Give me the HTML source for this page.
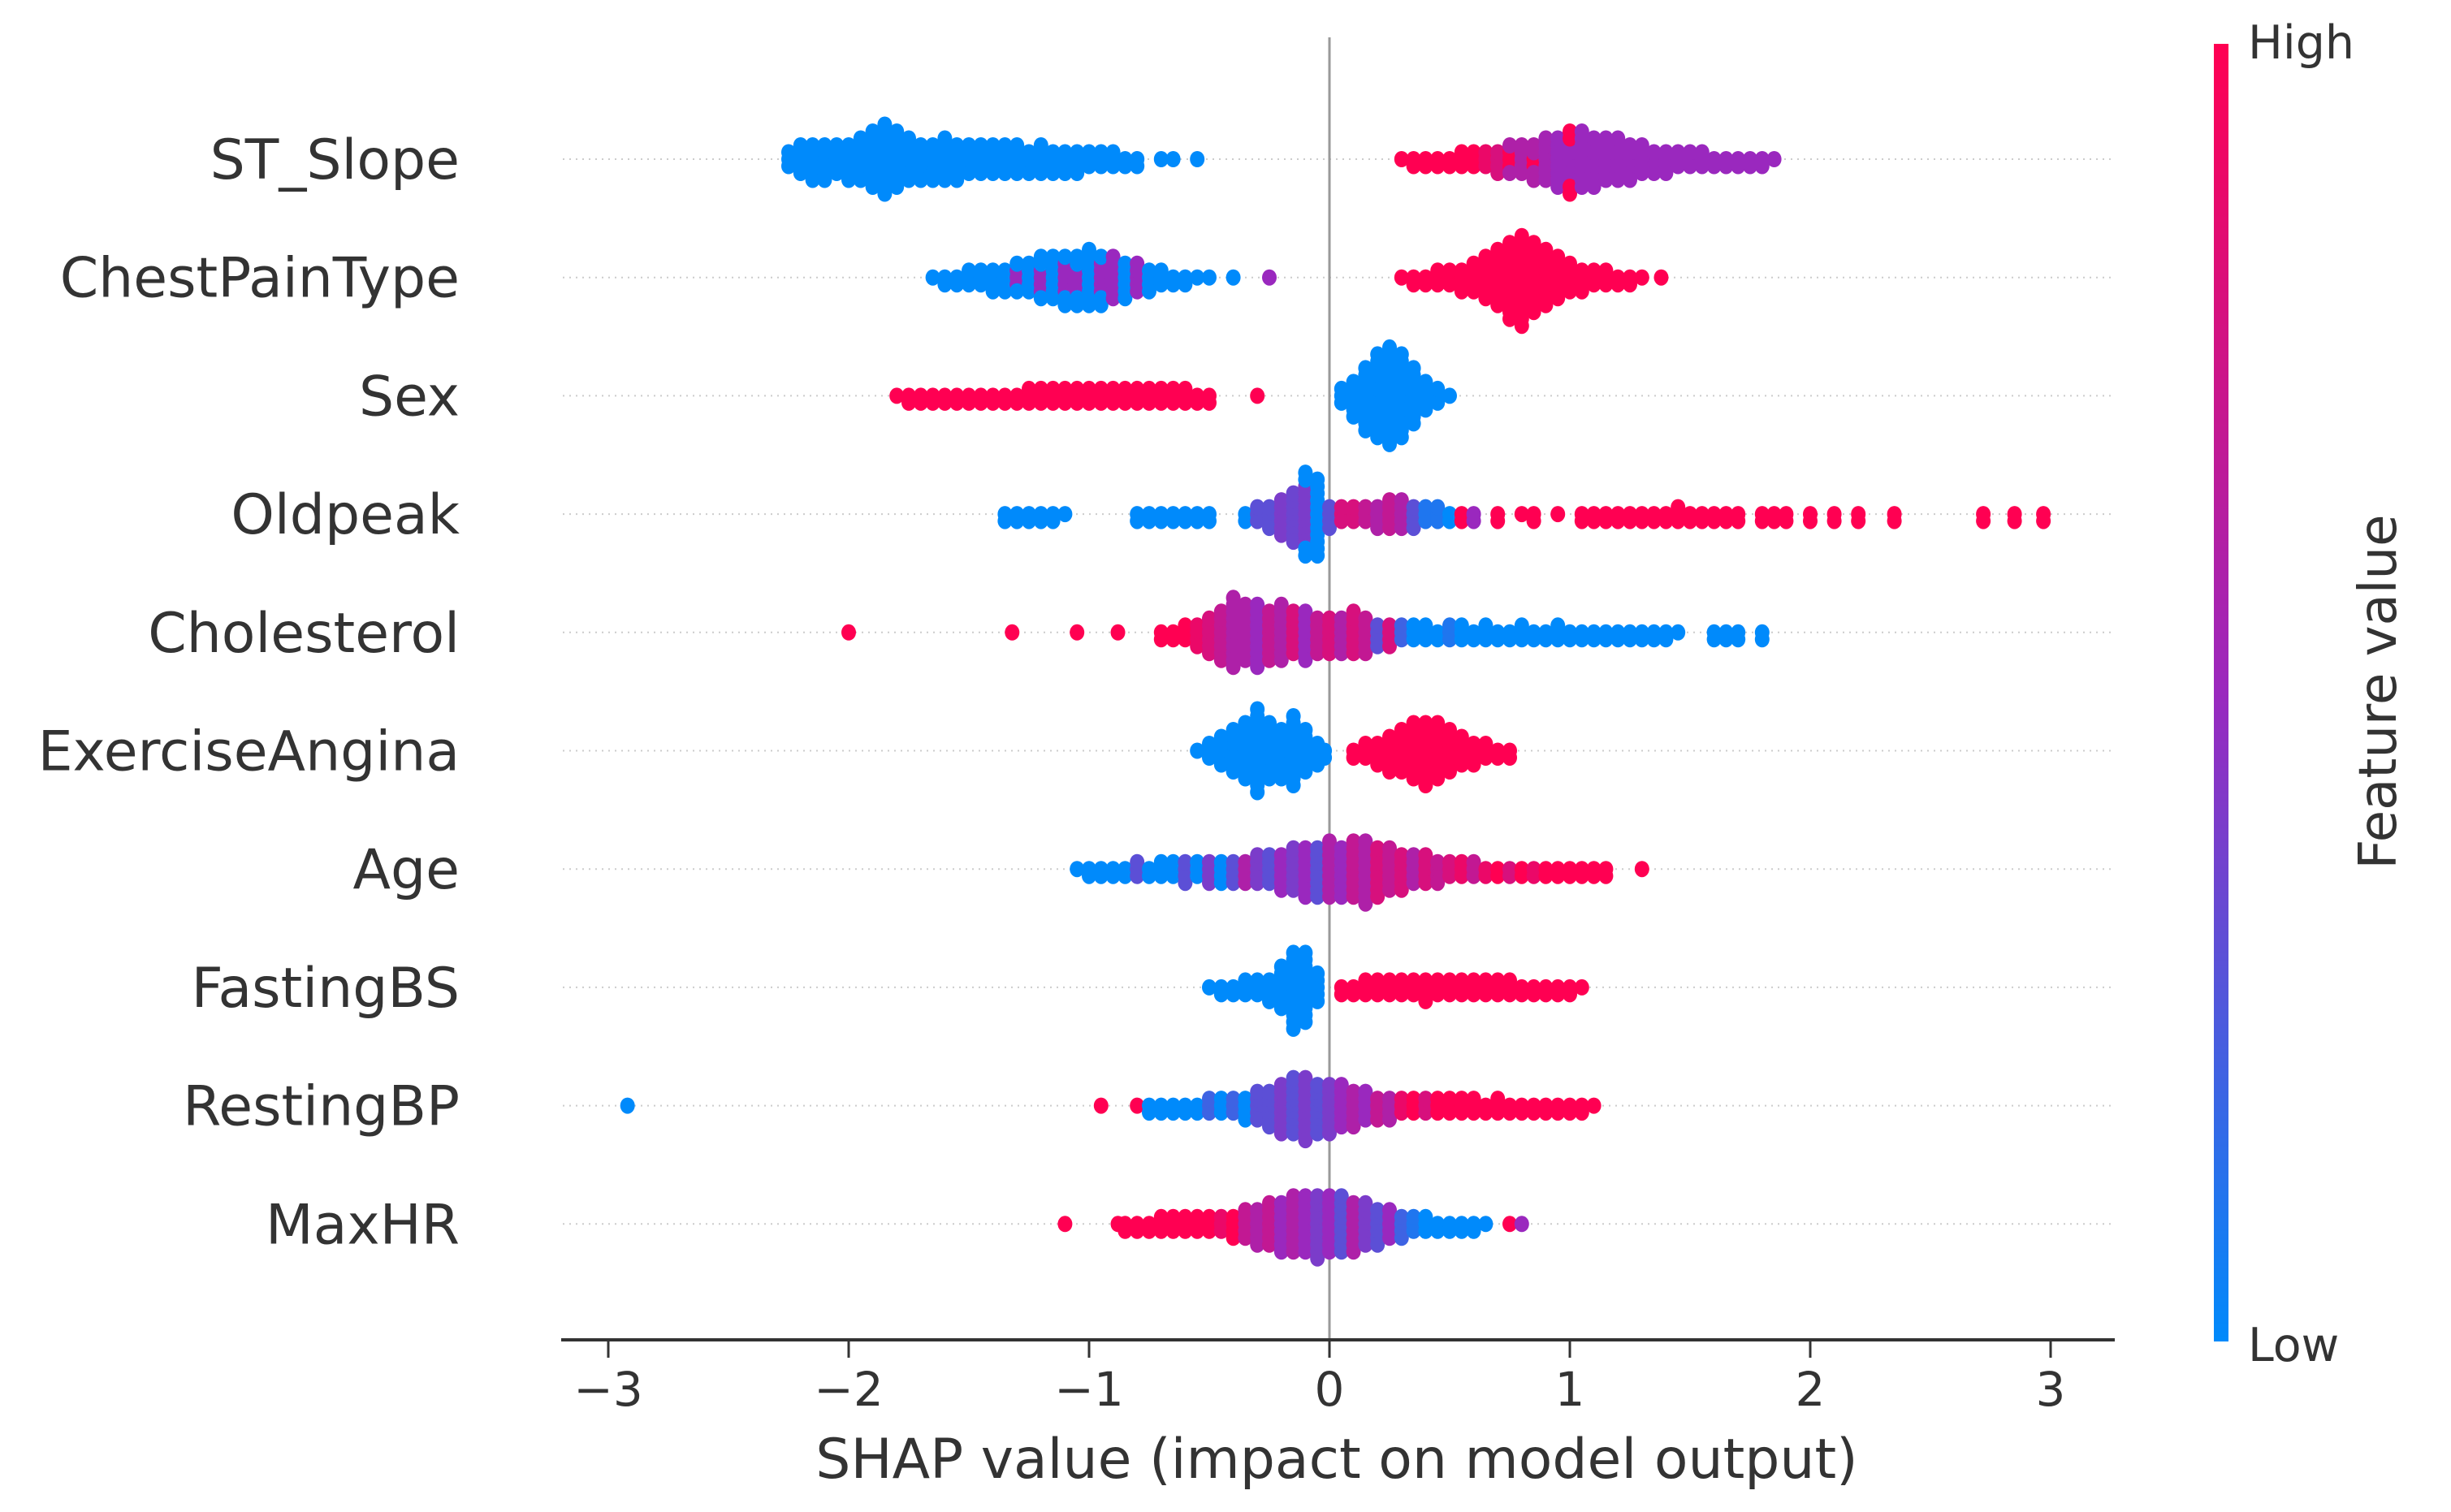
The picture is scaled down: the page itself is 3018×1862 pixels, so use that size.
<!DOCTYPE html>
<html><head><meta charset="utf-8"><style>
body{margin:0;background:#fff;}
svg{display:block;font-family:"DejaVu Sans","Liberation Sans",sans-serif;}
</style></head><body>
<svg id="chart" width="3018" height="1862" viewBox="0 0 3018 1862" xmlns="http://www.w3.org/2000/svg">
<defs><linearGradient id="cbar" x1="0" y1="1" x2="0" y2="0">
<stop offset="0" stop-color="#008afb"/><stop offset="0.5" stop-color="#9a28be"/><stop offset="1" stop-color="#ff0052"/></linearGradient></defs>
<g id="grid"></g>
<line x1="1637" y1="46" x2="1637" y2="1650" stroke="#999" stroke-width="3"/>
<g id="dots"></g>
<g id="labels"></g>
<line x1="691" y1="1650" x2="2604" y2="1650" stroke="#333" stroke-width="4"/>
<g id="xticks"></g>
<text x="1646" y="1820" font-size="68" fill="#333" text-anchor="middle">SHAP value (impact on model output)</text>
<rect x="2726" y="54" width="18" height="1598" fill="url(#cbar)"/>
<text x="2768" y="72" font-size="57" fill="#333">High</text>
<text x="2768" y="1676" font-size="57" fill="#333">Low</text>
<text x="0" y="0" font-size="64" fill="#333" text-anchor="middle" transform="translate(2950,852) rotate(-90)">Feature value</text>
</svg>
<script>
const features=["ST_Slope","ChestPainType","Sex","Oldpeak","Cholesterol","ExerciseAngina","Age","FastingBS","RestingBP","MaxHR"];
const xTicks=[-3,-2,-1,0,1,2,3];
// each entry: [shap value, feature value 0..1, count]
const stSlope=[[-2.25,0,3],[-2.2,0,5],[-2.15,0,6],[-2.1,0,6],[-2.05,0,5],[-2.0,0,6],[-1.95,0,7],[-1.9,0,9],[-1.85,0,11],[-1.8,0,9],[-1.75,0,7],[-1.7,0,6],[-1.65,0,6],[-1.6,0,7],[-1.55,0,6],[-1.5,0,5],[-1.45,0,5],[-1.4,0,5],[-1.35,0,5],[-1.3,0,5],[-1.25,0,4],[-1.2,0,5],[-1.15,0,4],[-1.1,0,4],[-1.05,0,4],[-1.0,0,3],[-0.95,0,3],[-0.9,0,3],[-0.85,0,2],[-0.8,0,2],[-0.7,0,1],[-0.65,0,1],[-0.55,0,1],
[0.3,1,1],[0.35,1,2],[0.4,1,2],[0.45,1,2],[0.5,1,2],[0.55,1,3],[0.6,1,3],[0.65,0.9,3],[0.7,0.8,4],[0.75,1,3],[0.75,0.6,2],[0.8,0.6,5],[0.85,1,2],[0.85,0.6,4],[0.9,0.55,7],[0.95,0.5,8],[1.0,0.5,6],[1.0,1,4],[1.05,0.5,9],[1.1,0.5,8],[1.15,0.5,7],[1.2,0.5,7],[1.25,0.5,6],[1.3,0.5,5],[1.35,0.5,4],[1.4,0.5,4],[1.45,0.5,3],[1.5,0.5,3],[1.55,0.5,3],[1.6,0.5,2],[1.65,0.5,2],[1.7,0.5,2],[1.75,0.5,2],[1.8,0.5,2],[1.85,0.5,1]];
const chestPain=[[-1.65,0,1],[-1.6,0,2],[-1.55,0,2],[-1.5,0,3],[-1.45,0,3],[-1.4,0,4],[-1.35,0,4],[-1.3,0.5,3],[-1.3,0,2],[-1.25,0,5],[-1.2,0.5,4],[-1.2,0,3],[-1.15,0,7],[-1.1,0.5,5],[-1.1,0,3],[-1.05,0.5,4],[-1.05,0,4],[-1.0,0,9],[-0.95,0.5,5],[-0.95,0,3],[-0.9,0.5,7],[-0.85,0,6],[-0.8,0.5,5],[-0.75,0,4],[-0.7,0,3],[-0.65,0,2],[-0.6,0,2],[-0.55,0,1],[-0.5,0,1],[-0.4,0,1],[-0.25,0.5,1],
[0.3,1,1],[0.35,1,2],[0.4,1,2],[0.45,1,3],[0.5,1,3],[0.55,1,4],[0.6,1,5],[0.65,1,7],[0.7,1,9],[0.75,1,12],[0.8,1,14],[0.85,1,11],[0.9,1,9],[0.95,1,7],[1.0,1,5],[1.05,1,4],[1.1,1,3],[1.15,1,3],[1.2,1,2],[1.25,1,2],[1.3,1,1],[1.38,1,1]];
const sex=[[-1.8,1,1],[-1.75,1,2],[-1.7,1,2],[-1.65,1,2],[-1.6,1,2],[-1.55,1,2],[-1.5,1,2],[-1.45,1,2],[-1.4,1,2],[-1.35,1,2],[-1.3,1,2],[-1.25,1,3],[-1.2,1,3],[-1.15,1,3],[-1.1,1,3],[-1.05,1,3],[-1.0,1,3],[-0.95,1,3],[-0.9,1,3],[-0.85,1,3],[-0.8,1,3],[-0.75,1,3],[-0.7,1,3],[-0.65,1,3],[-0.6,1,3],[-0.55,1,2],[-0.5,1,2],[-0.3,1,1],
[0.05,0,3],[0.1,0,6],[0.15,0,10],[0.2,0,13],[0.25,0,15],[0.3,0,13],[0.35,0,9],[0.4,0,5],[0.45,0,3],[0.5,0,1]];
const oldpeak=[[-1.35,0,2],[-1.3,0,2],[-1.25,0,2],[-1.2,0,2],[-1.15,0,2],[-1.1,0,1],[-0.8,0,2],[-0.75,0,2],[-0.7,0,2],[-0.65,0,2],[-0.6,0,2],[-0.55,0,2],[-0.5,0,2],[-0.35,0,2],[-0.3,0.3,3],[-0.25,0.3,4],[-0.2,0.4,6],[-0.15,0.35,8],[-0.1,0.4,9],[-0.1,0,4],[-0.05,0,12],[0.0,0.3,4],[0.05,0.8,3],[0.1,0.8,3],[0.15,0.7,3],[0.2,0.6,4],[0.25,0.7,5],[0.3,0.6,5],[0.35,0.3,4],[0.4,0.1,3],[0.45,0.1,3],[0.5,0,2],[0.55,1,2],[0.6,0.5,2],[0.7,1,2],[0.8,1,1],[0.85,1,2],[0.95,1,1],[1.05,1,2],[1.1,1,2],[1.15,1,2],[1.2,1,2],[1.25,1,2],[1.3,1,2],[1.35,1,2],[1.4,1,2],[1.45,1,3],[1.5,1,2],[1.55,1,2],[1.6,1,2],[1.65,1,2],[1.7,1,2],[1.8,1,2],[1.85,1,2],[1.9,1,2],[2.0,1,2],[2.1,1,2],[2.2,1,2],[2.35,1,2],[2.72,1,2],[2.85,1,2],[2.97,1,2]];
const cholesterol=[[-2.0,1,1],[-1.32,1,1],[-1.05,1,1],[-0.88,1,1],[-0.7,1,2],[-0.65,1,2],[-0.6,1,3],[-0.55,0.9,4],[-0.5,0.8,6],[-0.45,0.7,8],[-0.4,0.6,11],[-0.35,0.6,9],[-0.3,0.5,10],[-0.25,0.7,8],[-0.2,0.6,9],[-0.15,0.8,7],[-0.1,0.5,8],[-0.05,0.7,6],[0.0,0.8,6],[0.05,0.6,6],[0.1,0.8,7],[0.15,0.7,6],[0.2,0.3,4],[0.25,0.8,4],[0.3,0.2,3],[0.35,0,3],[0.4,0,3],[0.45,0,2],[0.5,0.1,3],[0.55,0,3],[0.6,0,2],[0.65,0,3],[0.7,0,2],[0.75,0,2],[0.8,0,3],[0.85,0,2],[0.9,0,2],[0.95,0,3],[1.0,0,2],[1.05,0,2],[1.1,0,2],[1.15,0,2],[1.2,0,2],[1.25,0,2],[1.3,0,2],[1.35,0,2],[1.4,0,2],[1.45,0,1],[1.6,0,2],[1.65,0,2],[1.7,0,2],[1.8,0,2]];
const exAngina=[[-0.55,0,1],[-0.5,0,3],[-0.45,0,5],[-0.4,0,7],[-0.35,0,9],[-0.3,0,13],[-0.25,0,9],[-0.2,0,8],[-0.15,0,11],[-0.1,0,7],[-0.05,0,4],[-0.02,0,2],
[0.1,1,2],[0.15,1,3],[0.2,1,4],[0.25,1,6],[0.3,1,7],[0.35,1,9],[0.4,1,10],[0.45,1,9],[0.5,1,7],[0.55,1,5],[0.6,1,4],[0.65,1,3],[0.7,1,2],[0.75,1,2]];
const age=[[-1.05,0,1],[-1.0,0,2],[-0.95,0,2],[-0.9,0,2],[-0.85,0,2],[-0.8,0.3,3],[-0.75,0,2],[-0.7,0,3],[-0.65,0,3],[-0.6,0.3,4],[-0.55,0,3],[-0.5,0.4,4],[-0.45,0,4],[-0.4,0.3,4],[-0.35,0.6,4],[-0.3,0.4,5],[-0.25,0.3,5],[-0.2,0.5,6],[-0.15,0.4,7],[-0.1,0.5,8],[-0.05,0.3,8],[0.0,0.6,9],[0.05,0.5,8],[0.1,0.7,9],[0.15,0.6,10],[0.2,0.8,8],[0.25,0.7,7],[0.3,0.8,6],[0.35,0.6,5],[0.4,0.8,5],[0.45,0.7,4],[0.5,0.8,3],[0.55,0.9,3],[0.6,0.7,3],[0.65,0.9,2],[0.7,1,2],[0.75,0.8,2],[0.8,1,2],[0.85,0.9,2],[0.9,1,2],[0.95,1,2],[1.0,1,2],[1.05,1,2],[1.1,1,2],[1.15,1,2],[1.3,1,1]];
const fastingBS=[[-0.5,0,1],[-0.45,0,2],[-0.4,0,2],[-0.35,0,3],[-0.3,0,3],[-0.25,0,4],[-0.2,0,7],[-0.15,0,12],[-0.1,0,11],[-0.05,0,5],[0.05,1,2],[0.1,1,2],[0.15,1,3],[0.2,1,3],[0.25,1,3],[0.3,1,3],[0.35,1,3],[0.4,1,4],[0.45,1,3],[0.5,1,3],[0.55,1,3],[0.6,1,3],[0.65,1,3],[0.7,1,3],[0.75,1,3],[0.8,1,2],[0.85,1,2],[0.9,1,2],[0.95,1,2],[1.0,1,2],[1.05,1,1]];
const restingBP=[[-2.92,0,1],[-0.95,1,1],[-0.8,1,1],[-0.75,0,2],[-0.7,0,2],[-0.65,0,2],[-0.6,0,2],[-0.55,0,2],[-0.5,0.2,3],[-0.45,0,3],[-0.4,0.2,3],[-0.35,0,4],[-0.3,0.3,5],[-0.25,0.3,6],[-0.2,0.4,8],[-0.15,0.3,9],[-0.1,0.4,10],[-0.05,0.3,8],[0.0,0.4,8],[0.05,0.5,7],[0.1,0.6,6],[0.15,0.5,5],[0.2,0.7,4],[0.25,0.6,4],[0.3,0.9,3],[0.35,1,3],[0.4,0.8,3],[0.45,1,3],[0.5,1,3],[0.55,1,3],[0.6,1,3],[0.65,1,2],[0.7,1,3],[0.75,1,2],[0.8,1,2],[0.85,1,2],[0.9,1,2],[0.95,1,2],[1.0,1,2],[1.05,1,2],[1.1,1,1]];
const maxHR=[[-1.1,1,1],[-0.88,1,1],[-0.85,1,2],[-0.8,1,2],[-0.75,1,2],[-0.7,1,3],[-0.65,1,3],[-0.6,1,3],[-0.55,1,3],[-0.5,1,3],[-0.45,0.9,3],[-0.4,1,4],[-0.35,0.7,5],[-0.3,0.6,6],[-0.25,0.7,7],[-0.2,0.5,8],[-0.15,0.6,9],[-0.1,0.5,9],[-0.05,0.4,10],[0.0,0.5,9],[0.05,0.3,9],[0.1,0.6,8],[0.15,0.4,7],[0.2,0.3,6],[0.25,0.5,5],[0.3,0.2,4],[0.35,0.1,3],[0.4,0,3],[0.45,0,2],[0.5,0,2],[0.55,0,2],[0.6,0,2],[0.65,0,1],[0.75,1,1],[0.8,0.5,1]];
const rows=[stSlope,chestPain,sex,oldpeak,cholesterol,exAngina,age,fastingBS,restingBP,maxHR];

const NS="http://www.w3.org/2000/svg";
const x0=1637,xUnit=296,yTop=196,yStep=145.7,stackStep=8.5;
const xs=v=>x0+v*xUnit;
const ys=i=>yTop+i*yStep;
function colour(t){
  const a=[0,138,251],m=[154,40,190],b=[255,0,82];
  let c;
  if(t<0.5){const f=t/0.5;c=a.map((v,k)=>v+(m[k]-v)*f);}else{const f=(t-0.5)/0.5;c=m.map((v,k)=>v+(b[k]-v)*f);}
  return "rgb("+c.map(Math.round).join(",")+")";
}
const grid=document.getElementById("grid"),dots=document.getElementById("dots"),labels=document.getElementById("labels"),xt=document.getElementById("xticks");
features.forEach((f,i)=>{
  const y=ys(i);
  const gl=document.createElementNS(NS,"line");
  gl.setAttribute("x1",693);gl.setAttribute("x2",2600);gl.setAttribute("y1",y);gl.setAttribute("y2",y);
  gl.setAttribute("stroke","#ccc");gl.setAttribute("stroke-width","2");gl.setAttribute("stroke-dasharray","2 6");
  
  
  grid.appendChild(gl);
  const t=document.createElementNS(NS,"text");
  t.setAttribute("x",566);t.setAttribute("y",y+24);t.setAttribute("font-size","68");t.setAttribute("fill","#333");t.setAttribute("text-anchor","end");
  t.textContent=f;
  
  
  labels.appendChild(t);
  const counts={};
  rows[i].forEach(([v,fv,n])=>{
    const key=v.toFixed(2);
    for(let k=0;k<n;k++){
      const c=counts[key]||0;counts[key]=c+1;
      const off=c===0?0:(c%2?1:-1)*Math.ceil(c/2)*stackStep;
      const e=document.createElementNS(NS,"ellipse");
      e.setAttribute("cx",xs(v));e.setAttribute("cy",y+off);e.setAttribute("rx",9);e.setAttribute("ry",10);
      e.setAttribute("fill",colour(fv));
      
      
      dots.appendChild(e);
    }
  });
});
xTicks.forEach(v=>{
  const l=document.createElementNS(NS,"line");
  l.setAttribute("x1",xs(v));l.setAttribute("x2",xs(v));l.setAttribute("y1",1650);l.setAttribute("y2",1672);
  l.setAttribute("stroke","#333");l.setAttribute("stroke-width","3");
  
  
  xt.appendChild(l);
  const t=document.createElementNS(NS,"text");
  t.setAttribute("x",xs(v));t.setAttribute("y",1731);t.setAttribute("font-size","58");t.setAttribute("fill","#333");t.setAttribute("text-anchor","middle");
  t.textContent=v<0?"\u2212"+Math.abs(v):String(v);
  
  
  xt.appendChild(t);
});
</script>
</body></html>
